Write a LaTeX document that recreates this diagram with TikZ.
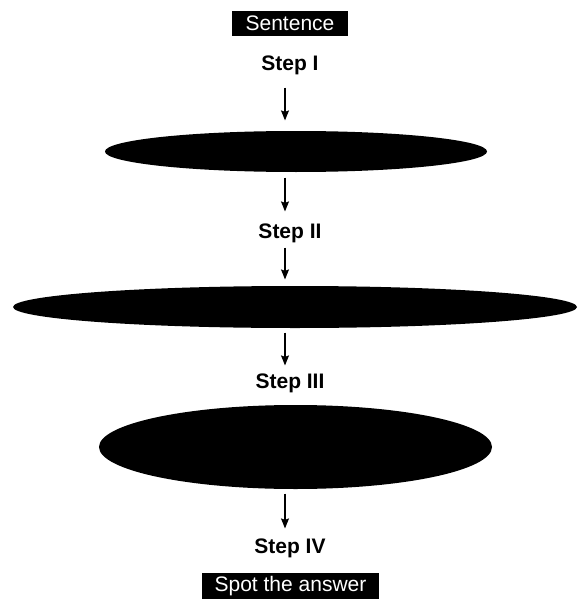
\documentclass[tikz,border=0pt]{standalone}
\usepackage{fontspec}
\setmainfont{Liberation Sans}
\usetikzlibrary{shapes.geometric,arrows.meta}

\begin{document}
\begin{tikzpicture}[x=1pt,y=-1pt,->,>={Stealth[length=10pt,width=8pt,inset=1.5pt]},line width=1.2pt]
    \tikzstyle{tag}=[fill=black,text=white,inner sep=0pt,font=\fontsize{21}{25}\selectfont]
    \tikzstyle{step label}=[inner sep=0pt,text height=14pt,text depth=4pt,font=\fontsize{21}{25}\selectfont\bfseries]
    \tikzstyle{blob}=[ellipse,fill=black,draw=none,inner sep=0pt]
    \useasboundingbox (0,0) rectangle (579,599);

    % Boxes at top and bottom
    \node[tag, minimum width=116pt, minimum height=25pt] (S) at (290,23.5) {Sentence};
    \node[tag, minimum width=177pt, minimum height=26pt] (A) at (290.5,586) {Spot the answer};

    % Step labels
    \node[step label] (S-1) at (290,66) {Step I};
    \node[step label] (S-2) at (290,233) {Step II};
    \node[step label] (S-3) at (290,383) {Step III};
    \node[step label] (S-4) at (290,548) {Step IV};

    % Black ellipses
    \node[blob, minimum width=382pt, minimum height=41pt] (E-1) at (296,151.5) {};
    \node[blob, minimum width=564pt, minimum height=42pt] (E-2) at (295,307) {};
    \node[blob, minimum width=393pt, minimum height=84pt] (E-3) at (295.5,447) {};

    % Arrows
    \path ([xshift=-5pt]S-1.south) edge[shorten <=12pt, shorten >=10pt] ([xshift=-5pt]S-1.south |- E-1.north);
    \path ([xshift=-5pt]S-2.north |- E-1.south) edge[shorten <=5pt, shorten >=12pt] ([xshift=-5pt]S-2.north);
    \path ([xshift=-5pt]S-2.south) edge[shorten <=5pt, shorten >=6pt] ([xshift=-5pt]S-2.south |- E-2.north);
    \path ([xshift=-5pt]S-3.north |- E-2.south) edge[shorten <=4pt, shorten >=8pt] ([xshift=-5pt]S-3.north);
    \path ([xshift=-5pt]S-4.north |- E-3.south) edge[shorten <=4pt, shorten >=10pt] ([xshift=-5pt]S-4.north);
\end{tikzpicture}
\end{document}
